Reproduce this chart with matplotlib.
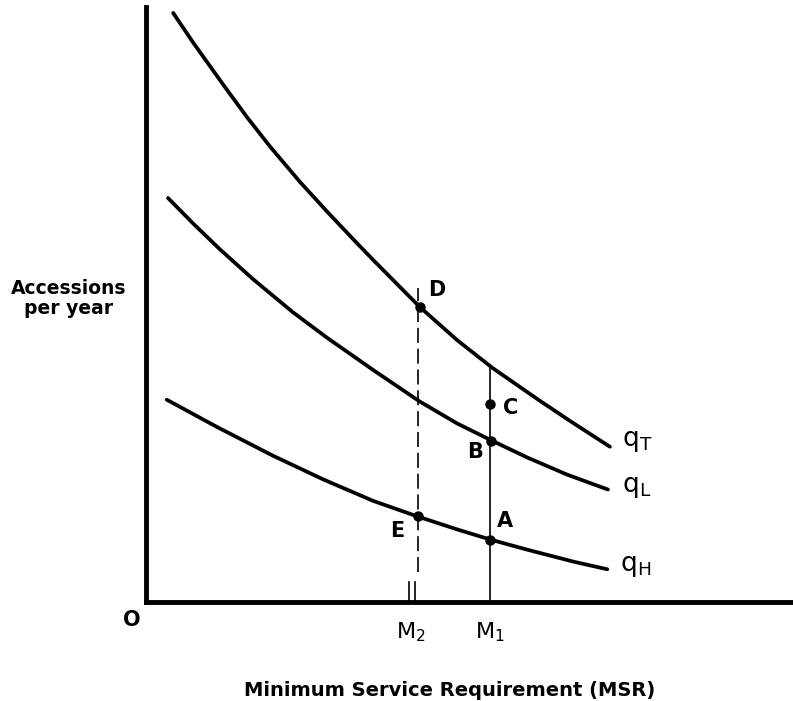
import matplotlib.pyplot as plt

# curves (MSR index, accessions index)
msr_T = [4.2, 7.3, 11.9, 15.6, 19.2, 23.8, 28.0, 32.0, 35.1, 42.3, 48.1, 53.6, 60.9, 66.0, 71.7]
q_T = [99.0, 94.0, 87.0, 81.5, 76.5, 70.6, 65.6, 61.0, 57.5, 49.6, 44.0, 39.3, 33.8, 30.1, 26.1]

msr_L = [3.4, 7.3, 11.4, 16.5, 22.7, 28.0, 35.1, 42.3, 48.1, 53.5, 58.9, 65.1, 71.4]
q_L = [67.9, 63.6, 59.3, 54.3, 48.7, 44.4, 39.0, 33.7, 30.0, 27.1, 24.3, 21.4, 18.9]

msr_H = [3.2, 11.0, 19.6, 27.4, 35.1, 41.9, 48.1, 53.2, 58.9, 66.0, 71.3]
q_H = [34.0, 29.4, 24.6, 20.6, 17.0, 14.4, 12.2, 10.5, 8.8, 6.8, 5.5]

M1 = 53.2
M2 = 42.0
M1_top = 39.3
M2_top = 52.8

pt_names = ['D', 'C', 'B', 'A', 'E']
pt_x = [42.3, 53.2, 53.3, 53.2, 42.0]
pt_y = [49.6, 33.3, 27.1, 10.5, 14.4]

fig = plt.figure(figsize=(7.93, 7.01), dpi=100)
ax = fig.add_axes([146/793, 99/701, 647/793, 595/701])
ax.set_xlim(0, 100)
ax.set_ylim(0, 100)
for s in ['top', 'right']:
    ax.spines[s].set_visible(False)
for s in ['left', 'bottom']:
    ax.spines[s].set_linewidth(3.5)
ax.set_xticks([])
ax.set_yticks([])

for xs, ys in [(msr_T, q_T), (msr_L, q_L), (msr_H, q_H)]:
    ax.plot(xs, ys, color='black', lw=2.7, solid_capstyle='round', solid_joinstyle='round')

ax.plot([M1, M1], [0, M1_top], color='black', lw=1.2)
ax.plot([M2, M2], [5, M2_top], color='black', lw=1.2, dashes=(9, 3.5))
ax.plot([M2 - 1.3, M2 - 1.3], [0, 3.4], color='black', lw=1.2)
ax.plot([M2 - 0.4, M2 - 0.4], [0, 3.4], color='black', lw=1.2)

ax.plot(pt_x, pt_y, 'o', color='black', ms=6.5, clip_on=False)

lab_off = {'D': (2.7, 2.8), 'C': (3.2, -0.7), 'B': (-2.5, -1.9), 'A': (2.3, 3.1), 'E': (-3.1, -2.4)}
for n, x, y in zip(pt_names, pt_x, pt_y):
    dx, dy = lab_off[n]
    ax.text(x + dx, y + dy, n, fontsize=15, fontweight='bold', ha='center', va='center')

ax.text(73.5, 27.0, r'$\mathregular{q_T}$', fontsize=19, ha='left', va='center')
ax.text(73.5, 19.3, r'$\mathregular{q_L}$', fontsize=19, ha='left', va='center')
ax.text(73.3, 6.0, r'$\mathregular{q_H}$', fontsize=19, ha='left', va='center')

ax.text(-2.2, -3.0, 'O', fontsize=15, fontweight='bold', ha='center', va='center')
ax.text(41.0, -5.0, r'$\mathregular{M_2}$', fontsize=16, ha='center', va='center')
ax.text(53.2, -5.0, r'$\mathregular{M_1}$', fontsize=16, ha='center', va='center')

ax.text(-12.0, 51.0, 'Accessions\nper year', fontsize=13.5, fontweight='bold',
        ha='center', va='center', linespacing=1.1)
ax.text(47.0, -14.8, 'Minimum Service Requirement (MSR)', fontsize=14,
        fontweight='bold', ha='center', va='center')

fig.savefig('out.png', dpi=100)
